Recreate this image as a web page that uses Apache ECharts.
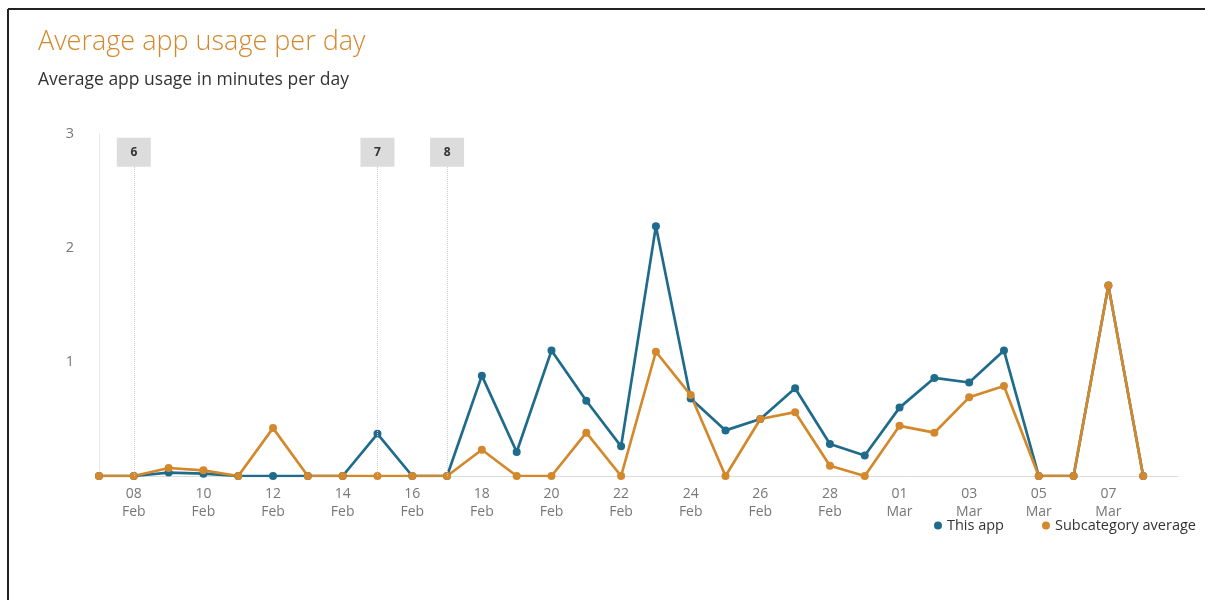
<!DOCTYPE html>
<html>
<head>
<meta charset="utf-8">
<title>Average app usage per day</title>
<script src="https://cdn.jsdelivr.net/npm/echarts@6/dist/echarts.min.js"></script>
<style>
  html, body { margin: 0; padding: 0; background: #fff; }
  #main { width: 1205px; height: 600px; }
</style>
</head>
<body>
<div id="main"></div>
<script>
// days shown on the axis (leap year, so 29 Feb is there); last one only stretches the axis
var days = ['07 Feb', '08 Feb', '09 Feb', '10 Feb', '11 Feb', '12 Feb', '13 Feb', '14 Feb',
  '15 Feb', '16 Feb', '17 Feb', '18 Feb', '19 Feb', '20 Feb', '21 Feb', '22 Feb', '23 Feb',
  '24 Feb', '25 Feb', '26 Feb', '27 Feb', '28 Feb', '29 Feb', '01 Mar', '02 Mar', '03 Mar',
  '04 Mar', '05 Mar', '06 Mar', '07 Mar', '08 Mar', '09 Mar'];

// minutes per day
var thisApp = [0, 0, 0.03, 0.02, 0, 0, 0, 0, 0.37, 0, 0, 0.88, 0.21, 1.1, 0.66, 0.26, 2.19,
  0.68, 0.4, 0.5, 0.77, 0.28, 0.18, 0.6, 0.86, 0.82, 1.1, 0, 0, 1.67, 0, null];
var subcategoryAvg = [0, 0, 0.07, 0.05, 0, 0.42, 0, 0, 0, 0, 0, 0.23, 0, 0, 0.38, 0, 1.09,
  0.71, 0, 0.5, 0.56, 0.09, 0, 0.44, 0.38, 0.69, 0.79, 0, 0, 1.67, 0, null];

// release markers
var markerDays = ['08 Feb', '15 Feb', '17 Feb'];
var markerNames = ['6', '7', '8'];

var blue = '#1f6b8c';
var orange = '#d4882c';

var chart = echarts.init(document.getElementById('main'));

var markLines = markerDays.map(function (d) {
  return [{ coord: [d, 0] }, { coord: [d, 2.72] }];
});
var markPoints = markerDays.map(function (d, i) {
  return { coord: [d, 2.84], value: markerNames[i] };
});

var option = {
  animation: false,
  textStyle: { fontFamily: '"Open Sans", "Noto Sans", sans-serif' },
  title: {
    text: 'Average app usage per day',
    subtext: 'Average app usage in minutes per day',
    left: 33,
    top: 24,
    itemGap: 15,
    textStyle: { color: orange, fontSize: 27, fontWeight: 300 },
    subtextStyle: { color: '#333', fontSize: 17.5 }
  },
  legend: {
    right: 4,
    top: 513,
    icon: 'circle',
    itemWidth: 8,
    itemHeight: 8,
    itemGap: 38,
    textStyle: { fontSize: 14.5, color: '#333' },
    data: ['This app', 'Subcategory average']
  },
  grid: { left: 99, right: 27, top: 134, bottom: 124 },
  xAxis: {
    type: 'category',
    data: days,
    boundaryGap: false,
    axisLine: { lineStyle: { color: '#dcdcdc' } },
    axisTick: { show: false },
    axisLabel: {
      color: '#777',
      fontSize: 14,
      lineHeight: 18,
      margin: 9,
      interval: function (idx) { return idx % 2 === 1 && idx < 31; },
      formatter: function (v) { return v.replace(' ', '\n'); }
    }
  },
  yAxis: {
    type: 'value',
    min: 0,
    max: 3,
    interval: 1,
    axisLine: { show: true, lineStyle: { color: '#e8e8e8' } },
    axisTick: { show: false },
    splitLine: { show: false },
    axisLabel: {
      color: '#777',
      fontSize: 14.5,
      margin: 25,
      formatter: function (v) { return v === 0 ? '' : v; }
    }
  },
  series: [
    {
      name: 'This app',
      type: 'line',
      data: thisApp,
      color: blue,
      symbol: 'circle',
      symbolSize: 8,
      lineStyle: { width: 2.7 },
      markLine: {
        silent: true,
        symbol: 'none',
        label: { show: false },
        lineStyle: { color: '#cfcfcf', type: 'dotted', width: 1 },
        data: markLines
      },
      markPoint: {
        silent: true,
        symbol: 'rect',
        symbolSize: [34, 29],
        itemStyle: { color: '#dcdcdc' },
        label: { color: '#333', fontSize: 12, fontWeight: 'bold' },
        data: markPoints
      }
    },
    {
      name: 'Subcategory average',
      type: 'line',
      data: subcategoryAvg,
      color: orange,
      symbol: 'circle',
      symbolSize: 8,
      lineStyle: { width: 2.7 }
    }
  ],
  graphic: [
    { type: 'line', shape: { x1: 8, y1: 9, x2: 1205, y2: 9 }, style: { stroke: '#222', lineWidth: 2 } },
    { type: 'line', shape: { x1: 8, y1: 9, x2: 8, y2: 600 }, style: { stroke: '#222', lineWidth: 2 } }
  ]
};

chart.setOption(option);
</script>
</body>
</html>
